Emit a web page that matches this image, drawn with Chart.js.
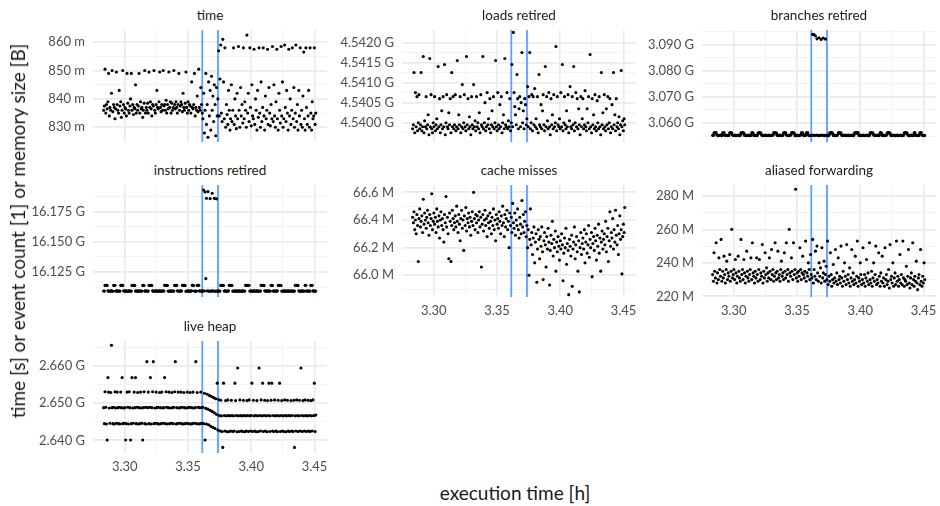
<!DOCTYPE html>
<html>
<head>
<meta charset="utf-8">
<script src="https://cdn.jsdelivr.net/npm/chart.js@4.4.1/dist/chart.umd.min.js"></script>
<style>
  body { margin: 0; background: #fff; font-family: Lato, sans-serif; }
  #wrap { position: relative; width: 940px; height: 506px; overflow: hidden; }
  canvas { position: absolute; }
  .strip { position: absolute; text-align: center; font-size: 13.5px; line-height: 16px; color: #1a1a1a; }
  .axis-title { position: absolute; font-size: 19px; line-height: 22px; color: #1a1a1a; white-space: nowrap; font-weight: 400; }
</style>
</head>
<body>
<div id="wrap"></div>
<script>
// execution time of each run [h]
const runTimes = [
  3.2833, 3.2839, 3.2844, 3.2850, 3.2855, 3.2861, 3.2867, 3.2872, 3.2878, 3.2883, 3.2889, 3.2895, 3.2900, 3.2906, 3.2912, 3.2917, 3.2923, 3.2928, 3.2934, 3.2940, 3.2945, 3.2951, 3.2956, 3.2962, 3.2968, 3.2973, 3.2979, 3.2984, 3.2990, 3.2996,
  3.3001, 3.3007, 3.3013, 3.3018, 3.3024, 3.3029, 3.3035, 3.3041, 3.3046, 3.3052, 3.3057, 3.3063, 3.3069, 3.3074, 3.3080, 3.3085, 3.3091, 3.3097, 3.3102, 3.3108, 3.3113, 3.3119, 3.3125, 3.3130, 3.3136, 3.3142, 3.3147, 3.3153, 3.3158, 3.3164,
  3.3170, 3.3175, 3.3181, 3.3186, 3.3192, 3.3198, 3.3203, 3.3209, 3.3214, 3.3220, 3.3226, 3.3231, 3.3237, 3.3242, 3.3248, 3.3254, 3.3259, 3.3265, 3.3271, 3.3276, 3.3282, 3.3287, 3.3293, 3.3299, 3.3304, 3.3310, 3.3315, 3.3321, 3.3327, 3.3332,
  3.3338, 3.3343, 3.3349, 3.3355, 3.3360, 3.3366, 3.3372, 3.3377, 3.3383, 3.3388, 3.3394, 3.3400, 3.3405, 3.3411, 3.3416, 3.3422, 3.3428, 3.3433, 3.3439, 3.3444, 3.3450, 3.3456, 3.3461, 3.3467, 3.3472, 3.3478, 3.3484, 3.3489, 3.3495, 3.3501,
  3.3506, 3.3512, 3.3517, 3.3523, 3.3529, 3.3534, 3.3540, 3.3545, 3.3551, 3.3557, 3.3562, 3.3568, 3.3573, 3.3579, 3.3585, 3.3590, 3.3596, 3.3601, 3.3607, 3.3613, 3.3618, 3.3624, 3.3630, 3.3635, 3.3641, 3.3646, 3.3652, 3.3658, 3.3663, 3.3669,
  3.3675, 3.3680, 3.3686, 3.3691, 3.3697, 3.3703, 3.3708, 3.3714, 3.3719, 3.3725, 3.3731, 3.3736, 3.3742, 3.3747, 3.3753, 3.3759, 3.3764, 3.3770, 3.3775, 3.3781, 3.3787, 3.3792, 3.3798, 3.3804, 3.3809, 3.3815, 3.3820, 3.3826, 3.3832, 3.3837,
  3.3843, 3.3848, 3.3854, 3.3860, 3.3865, 3.3871, 3.3876, 3.3882, 3.3888, 3.3893, 3.3899, 3.3904, 3.3910, 3.3916, 3.3921, 3.3927, 3.3933, 3.3938, 3.3944, 3.3949, 3.3955, 3.3961, 3.3966, 3.3972, 3.3977, 3.3983, 3.3989, 3.3994, 3.4000, 3.4005,
  3.4011, 3.4017, 3.4022, 3.4028, 3.4034, 3.4039, 3.4045, 3.4050, 3.4056, 3.4062, 3.4067, 3.4073, 3.4078, 3.4084, 3.4090, 3.4095, 3.4101, 3.4106, 3.4112, 3.4118, 3.4123, 3.4129, 3.4134, 3.4140, 3.4146, 3.4151, 3.4157, 3.4163, 3.4168, 3.4174,
  3.4179, 3.4185, 3.4191, 3.4196, 3.4202, 3.4207, 3.4213, 3.4219, 3.4224, 3.4230, 3.4236, 3.4241, 3.4247, 3.4252, 3.4258, 3.4264, 3.4269, 3.4275, 3.4280, 3.4286, 3.4292, 3.4297, 3.4303, 3.4308, 3.4314, 3.4320, 3.4325, 3.4331, 3.4337, 3.4342,
  3.4348, 3.4353, 3.4359, 3.4365, 3.4370, 3.4376, 3.4381, 3.4387, 3.4393, 3.4398, 3.4404, 3.4409, 3.4415, 3.4421, 3.4426, 3.4432, 3.4437, 3.4443, 3.4449, 3.4454, 3.4460, 3.4465, 3.4471, 3.4477, 3.4482, 3.4488, 3.4494, 3.4499, 3.4505, 3.4510
];

// time [ms]
const timeValues = [
  836, 837.5, 850.5, 835, 838, 836.5, 839, 849, 834, 837, 836, 842, 850, 835.5, 838, 837, 833, 836.5, 849.5, 838, 836, 835, 843, 837.5, 839, 833.5, 836, 850, 838, 835,
  837, 836.5, 834, 849, 838.5, 836, 835, 837.5, 840, 849, 836, 838, 834.5, 837, 836.5, 845, 835, 838, 836, 837.5, 849, 835, 839, 836.5, 837, 833.5, 836, 838.5, 850, 835,
  837, 836, 838.5, 835, 849.5, 837, 839, 836.5, 834, 838, 837.5, 850, 836, 835, 838, 843, 837, 836.5, 839, 849.5, 837, 835.5, 838, 836, 850, 837.5, 838, 836, 839.5, 835,
  838, 836.5, 849.5, 837, 839, 835, 838.5, 836, 837, 850, 838, 836.5, 839, 837, 835, 838, 849, 836, 837.5, 839, 838, 835.5, 842, 837, 836, 838.5, 849.5, 837, 835, 839,
  836, 838, 837.5, 835, 846, 837, 836.5, 838, 849, 834, 837, 836, 841, 835.5, 850.5, 837, 836, 844, 838, 835, 833, 842, 828, 836, 849, 831, 838, 826.5, 846, 834,
  843, 829, 848, 836, 841, 832, 845, 838, 827, 844, 834, 840, 857, 834, 847, 859, 835, 832, 861, 846, 833, 858, 830, 838, 834.5, 831, 843, 836, 829, 833,
  845, 832, 836, 858, 831, 840, 834, 829.5, 842, 833, 858.5, 836, 830, 844, 834, 838, 831.5, 858, 833, 839, 836, 830, 862.5, 835, 842, 832, 858, 837, 830.5, 845,
  834, 833, 857.5, 831, 840, 836, 829, 843, 833.5, 858, 835, 830, 846, 832, 837, 858, 834, 829, 841, 833, 836, 857.5, 831, 844, 835, 830.5, 838, 833, 858.5, 832,
  845, 834, 830, 839, 857.5, 833, 829, 842, 836, 831.5, 858.5, 834, 846, 830, 833, 859, 837, 832, 843, 835, 829, 857.5, 834, 840, 831, 836, 858, 833, 844, 830,
  835, 859, 832, 838, 829, 843, 834, 858, 831, 836, 830, 841, 856.5, 833, 829, 858, 837, 831, 834, 843, 830, 858, 835, 829, 839, 833, 834, 858, 831, 835
];

// loads retired [G]
const loadsValues = [
  4.53985, 4.53995, 4.54125, 4.53975, 4.54075, 4.53990, 4.54065, 4.53980, 4.54000, 4.54070, 4.53985, 4.53995, 4.54125, 4.53980, 4.53990, 4.54165, 4.53975, 4.54005, 4.53990, 4.54065, 4.53985, 4.53995, 4.54020, 4.53970, 4.54160, 4.53990, 4.54070, 4.53985, 4.53975, 4.54000,
  4.53990, 4.54065, 4.53980, 4.53995, 4.54010, 4.53985, 4.54140, 4.53990, 4.54060, 4.53975, 4.53995, 4.54030, 4.53985, 4.54065, 4.53990, 4.54145, 4.53970, 4.54000, 4.54070, 4.53990, 4.53985, 4.54025, 4.53995, 4.54060, 4.53975, 4.54125, 4.53990, 4.54065, 4.53985, 4.53995,
  4.54070, 4.53980, 4.53990, 4.54155, 4.53985, 4.54020, 4.53995, 4.54065, 4.53975, 4.53990, 4.54095, 4.53985, 4.54000, 4.54070, 4.53990, 4.53980, 4.54165, 4.53995, 4.54060, 4.53985, 4.54015, 4.53990, 4.53970, 4.54065, 4.53995, 4.53985, 4.54095, 4.53990, 4.54005, 4.53980,
  4.54065, 4.53990, 4.54000, 4.53985, 4.54025, 4.53975, 4.54070, 4.53995, 4.53990, 4.54165, 4.53985, 4.54000, 4.54050, 4.53980, 4.53990, 4.54075, 4.53995, 4.54010, 4.53985, 4.54060, 4.53975, 4.53995, 4.54030, 4.53990, 4.54065, 4.53985, 4.54000, 4.54155, 4.53990, 4.53980,
  4.54075, 4.53995, 4.53985, 4.54045, 4.53990, 4.54065, 4.53975, 4.54000, 4.54020, 4.53985, 4.54160, 4.53995, 4.53990, 4.54075, 4.53985, 4.54005, 4.53990, 4.54060, 4.53980, 4.54000, 4.54145, 4.53990, 4.54225, 4.54075, 4.54040, 4.54020, 4.53995, 4.54120, 4.54060, 4.53985,
  4.54035, 4.54065, 4.53990, 4.54050, 4.54175, 4.54000, 4.54030, 4.53985, 4.54060, 4.54045, 4.53995, 4.54010, 4.54090, 4.53990, 4.54065, 4.54175, 4.53985, 4.54000, 4.54070, 4.53980, 4.54065, 4.53995, 4.54085, 4.53990, 4.54010, 4.53985, 4.54065, 4.53975, 4.54120, 4.53995,
  4.53990, 4.54045, 4.53985, 4.54030, 4.54070, 4.53995, 4.53980, 4.54140, 4.53990, 4.54065, 4.54005, 4.53985, 4.54075, 4.53990, 4.53970, 4.54060, 4.53995, 4.54020, 4.53985, 4.54070, 4.53990, 4.54000, 4.54190, 4.53980, 4.54065, 4.53995, 4.53990, 4.54010, 4.53985, 4.54075,
  4.53990, 4.54145, 4.53980, 4.54000, 4.54065, 4.53995, 4.53985, 4.54030, 4.53990, 4.54070, 4.53975, 4.54005, 4.54090, 4.53990, 4.53985, 4.54065, 4.53995, 4.54140, 4.53980, 4.54000, 4.54075, 4.53990, 4.54060, 4.53985, 4.54035, 4.53995, 4.53970, 4.54065, 4.53990, 4.54010,
  4.54060, 4.53985, 4.53995, 4.54080, 4.53990, 4.53980, 4.54035, 4.54000, 4.54065, 4.53985, 4.54170, 4.53990, 4.53975, 4.54060, 4.53995, 4.54020, 4.53985, 4.54070, 4.53990, 4.53980, 4.54055, 4.54000, 4.53985, 4.54065, 4.53990, 4.53970, 4.54125, 4.53995, 4.54025, 4.53985,
  4.54070, 4.53990, 4.53980, 4.54035, 4.53995, 4.54065, 4.53985, 4.54000, 4.54060, 4.53975, 4.53990, 4.54045, 4.53985, 4.54125, 4.53995, 4.54020, 4.53980, 4.54060, 4.53990, 4.54000, 4.53985, 4.54015, 4.53970, 4.53995, 4.54130, 4.53990, 4.54005, 4.53980, 4.54010, 4.53995
];

// branches retired [G]
const branchesValues = [
  3.0553, 3.0552, 3.0562, 3.0561, 3.0563, 3.0562, 3.0554, 3.0553, 3.0551, 3.0553, 3.0552, 3.0554, 3.0553, 3.0551, 3.0562, 3.0561, 3.0563, 3.0553, 3.0552, 3.0554, 3.0553, 3.0551, 3.0553, 3.0552, 3.0562, 3.0563, 3.0561, 3.0562, 3.0554, 3.0553,
  3.0552, 3.0554, 3.0553, 3.0551, 3.0553, 3.0552, 3.0554, 3.0553, 3.0551, 3.0553, 3.0562, 3.0561, 3.0563, 3.0562, 3.0561, 3.0552, 3.0554, 3.0553, 3.0551, 3.0553, 3.0552, 3.0554, 3.0553, 3.0551, 3.0553, 3.0562, 3.0563, 3.0561, 3.0552, 3.0554,
  3.0553, 3.0551, 3.0553, 3.0552, 3.0562, 3.0561, 3.0563, 3.0562, 3.0561, 3.0554, 3.0553, 3.0551, 3.0553, 3.0552, 3.0554, 3.0553, 3.0551, 3.0553, 3.0552, 3.0554, 3.0553, 3.0551, 3.0553, 3.0552, 3.0554, 3.0553, 3.0562, 3.0563, 3.0561, 3.0562,
  3.0561, 3.0553, 3.0551, 3.0553, 3.0552, 3.0554, 3.0553, 3.0551, 3.0553, 3.0552, 3.0562, 3.0561, 3.0563, 3.0562, 3.0554, 3.0553, 3.0551, 3.0553, 3.0552, 3.0554, 3.0553, 3.0562, 3.0561, 3.0563, 3.0562, 3.0561, 3.0551, 3.0553, 3.0552, 3.0554,
  3.0553, 3.0551, 3.0553, 3.0552, 3.0554, 3.0562, 3.0563, 3.0561, 3.0553, 3.0551, 3.0553, 3.0552, 3.0562, 3.0561, 3.0563, 3.0554, 3.0553, 3.0551, 3.0553, 3.0552, 3.0554, 3.0938, 3.0553, 3.0937, 3.0552, 3.0932, 3.0554, 3.0921, 3.0553, 3.0551,
  3.0925, 3.0553, 3.0552, 3.0919, 3.0554, 3.0553, 3.0924, 3.0551, 3.0553, 3.0920, 3.0552, 3.0554, 3.0553, 3.0551, 3.0553, 3.0562, 3.0561, 3.0563, 3.0562, 3.0561, 3.0552, 3.0554, 3.0553, 3.0551, 3.0553, 3.0552, 3.0554, 3.0562, 3.0563, 3.0561,
  3.0562, 3.0561, 3.0553, 3.0551, 3.0553, 3.0552, 3.0554, 3.0553, 3.0551, 3.0553, 3.0552, 3.0554, 3.0553, 3.0551, 3.0553, 3.0552, 3.0554, 3.0553, 3.0551, 3.0553, 3.0562, 3.0561, 3.0563, 3.0562, 3.0561, 3.0563, 3.0552, 3.0554, 3.0553, 3.0551,
  3.0553, 3.0552, 3.0554, 3.0553, 3.0551, 3.0553, 3.0552, 3.0554, 3.0553, 3.0551, 3.0553, 3.0552, 3.0562, 3.0561, 3.0563, 3.0562, 3.0561, 3.0554, 3.0553, 3.0551, 3.0553, 3.0552, 3.0554, 3.0553, 3.0551, 3.0553, 3.0562, 3.0563, 3.0561, 3.0552,
  3.0554, 3.0553, 3.0551, 3.0553, 3.0552, 3.0554, 3.0562, 3.0561, 3.0563, 3.0562, 3.0561, 3.0553, 3.0551, 3.0553, 3.0552, 3.0554, 3.0553, 3.0551, 3.0553, 3.0552, 3.0554, 3.0553, 3.0551, 3.0553, 3.0552, 3.0554, 3.0553, 3.0551, 3.0553, 3.0552,
  3.0562, 3.0561, 3.0563, 3.0562, 3.0561, 3.0554, 3.0553, 3.0551, 3.0553, 3.0552, 3.0554, 3.0553, 3.0551, 3.0553, 3.0562, 3.0563, 3.0552, 3.0554, 3.0553, 3.0551, 3.0553, 3.0552, 3.0562, 3.0561, 3.0563, 3.0554, 3.0553, 3.0551, 3.0553, 3.0552
];

// instructions retired [G]
const instructionsValues = [
  16.1092, 16.1091, 16.1139, 16.1138, 16.1140, 16.1139, 16.1093, 16.1092, 16.1090, 16.1092, 16.1091, 16.1093, 16.1092, 16.1090, 16.1139, 16.1138, 16.1140, 16.1092, 16.1091, 16.1093, 16.1092, 16.1090, 16.1092, 16.1091, 16.1139, 16.1140, 16.1138, 16.1139, 16.1093, 16.1092,
  16.1091, 16.1093, 16.1092, 16.1090, 16.1092, 16.1091, 16.1093, 16.1092, 16.1090, 16.1092, 16.1139, 16.1138, 16.1140, 16.1139, 16.1138, 16.1091, 16.1093, 16.1092, 16.1090, 16.1092, 16.1091, 16.1093, 16.1092, 16.1090, 16.1092, 16.1139, 16.1140, 16.1138, 16.1091, 16.1093,
  16.1092, 16.1090, 16.1092, 16.1091, 16.1139, 16.1138, 16.1140, 16.1139, 16.1138, 16.1093, 16.1092, 16.1090, 16.1092, 16.1091, 16.1093, 16.1092, 16.1090, 16.1092, 16.1091, 16.1093, 16.1092, 16.1090, 16.1092, 16.1091, 16.1093, 16.1092, 16.1139, 16.1140, 16.1138, 16.1139,
  16.1138, 16.1092, 16.1090, 16.1092, 16.1091, 16.1093, 16.1092, 16.1090, 16.1092, 16.1091, 16.1139, 16.1138, 16.1140, 16.1139, 16.1093, 16.1092, 16.1090, 16.1092, 16.1091, 16.1093, 16.1092, 16.1139, 16.1138, 16.1140, 16.1139, 16.1138, 16.1090, 16.1092, 16.1091, 16.1093,
  16.1092, 16.1090, 16.1092, 16.1091, 16.1093, 16.1139, 16.1140, 16.1138, 16.1092, 16.1090, 16.1092, 16.1091, 16.1139, 16.1138, 16.1140, 16.1093, 16.1092, 16.1090, 16.1092, 16.1091, 16.1093, 16.1932, 16.1092, 16.1915, 16.1195, 16.1862, 16.1093, 16.1918, 16.1092, 16.1090,
  16.1860, 16.1092, 16.1091, 16.1905, 16.1093, 16.1092, 16.1862, 16.1090, 16.1092, 16.1858, 16.1091, 16.1093, 16.1092, 16.1090, 16.1092, 16.1139, 16.1138, 16.1140, 16.1139, 16.1138, 16.1091, 16.1093, 16.1092, 16.1090, 16.1092, 16.1091, 16.1093, 16.1139, 16.1140, 16.1138,
  16.1139, 16.1138, 16.1092, 16.1090, 16.1092, 16.1091, 16.1093, 16.1092, 16.1090, 16.1092, 16.1091, 16.1093, 16.1092, 16.1090, 16.1092, 16.1091, 16.1093, 16.1092, 16.1090, 16.1092, 16.1139, 16.1138, 16.1140, 16.1139, 16.1138, 16.1140, 16.1091, 16.1093, 16.1092, 16.1090,
  16.1092, 16.1091, 16.1093, 16.1092, 16.1090, 16.1092, 16.1091, 16.1093, 16.1092, 16.1090, 16.1092, 16.1091, 16.1139, 16.1138, 16.1140, 16.1139, 16.1138, 16.1093, 16.1092, 16.1090, 16.1092, 16.1091, 16.1093, 16.1092, 16.1090, 16.1092, 16.1139, 16.1140, 16.1138, 16.1091,
  16.1093, 16.1092, 16.1090, 16.1092, 16.1091, 16.1093, 16.1139, 16.1138, 16.1140, 16.1139, 16.1138, 16.1092, 16.1090, 16.1092, 16.1091, 16.1093, 16.1092, 16.1090, 16.1092, 16.1091, 16.1093, 16.1092, 16.1090, 16.1092, 16.1091, 16.1093, 16.1092, 16.1090, 16.1092, 16.1091,
  16.1139, 16.1138, 16.1140, 16.1139, 16.1138, 16.1093, 16.1092, 16.1090, 16.1092, 16.1091, 16.1093, 16.1092, 16.1090, 16.1092, 16.1139, 16.1140, 16.1091, 16.1093, 16.1092, 16.1090, 16.1092, 16.1091, 16.1139, 16.1138, 16.1140, 16.1093, 16.1092, 16.1090, 16.1092, 16.1091
];

// cache misses [M]
const cacheValues = [
  66.42, 66.38, 66.46, 66.33, 66.40, 66.30, 66.44, 66.36, 66.10, 66.41, 66.48, 66.35, 66.39, 66.43, 66.31, 66.55, 66.37, 66.45, 66.40, 66.34, 66.42, 66.47, 66.38, 66.29, 66.44, 66.36, 66.41, 66.59, 66.33, 66.39,
  66.45, 66.37, 66.42, 66.31, 66.48, 66.39, 66.35, 66.43, 66.27, 66.40, 66.46, 66.36, 66.41, 66.33, 66.24, 66.44, 66.38, 66.57, 66.35, 66.42, 66.30, 66.12, 66.45, 66.39, 66.10, 66.36, 66.47, 66.41, 66.33, 66.38,
  66.43, 66.35, 66.50, 66.39, 66.31, 66.44, 66.37, 66.25, 66.41, 66.47, 66.34, 66.40, 66.18, 66.43, 66.36, 66.49, 66.32, 66.41, 66.38, 66.45, 66.35, 66.42, 66.29, 66.39, 66.46, 66.36, 66.60, 66.41, 66.33, 66.44,
  66.38, 66.43, 66.31, 66.40, 66.46, 66.35, 66.42, 66.06, 66.37, 66.44, 66.32, 66.40, 66.47, 66.36, 66.41, 66.28, 66.43, 66.38, 66.34, 66.45, 66.39, 66.30, 66.42, 66.36, 66.48, 66.33, 66.40, 66.25, 66.44, 66.37,
  66.41, 66.34, 66.46, 66.39, 66.30, 66.43, 66.36, 66.50, 66.38, 66.28, 66.44, 66.35, 66.41, 66.47, 66.33, 66.39, 66.20, 66.45, 66.36, 66.42, 66.31, 66.52, 66.38, 66.34, 66.45, 66.29, 66.40, 66.36, 66.48, 66.33,
  66.27, 66.42, 66.37, 66.30, 66.54, 66.35, 66.44, 66.31, 66.39, 66.46, 66.28, 66.36, 66.20, 66.33, 66.00, 66.26, 66.48, 66.22, 66.31, 66.15, 66.27, 66.35, 66.09, 66.24, 66.30, 65.95, 66.19, 66.33, 66.26, 66.12,
  66.28, 66.21, 66.35, 66.17, 65.97, 66.25, 66.31, 66.22, 66.06, 66.28, 66.19, 66.34, 66.24, 65.93, 66.18, 66.29, 66.23, 66.39, 66.14, 66.26, 66.20, 66.32, 66.03, 66.24, 66.17, 66.28, 66.21, 66.11, 66.25, 66.19,
  66.30, 66.22, 65.96, 66.16, 66.27, 66.20, 66.34, 66.08, 66.23, 66.18, 65.86, 66.26, 66.21, 66.14, 66.29, 65.92, 66.19, 66.24, 66.35, 66.12, 66.22, 66.28, 66.17, 66.03, 66.25, 65.88, 66.20, 66.31, 66.15, 66.23,
  66.27, 66.19, 66.33, 66.09, 66.24, 66.30, 66.16, 66.22, 66.36, 66.13, 66.26, 66.20, 66.31, 65.99, 66.23, 66.28, 66.18, 66.34, 66.25, 66.11, 66.29, 66.21, 66.37, 66.16, 66.27, 66.03, 66.24, 66.32, 66.19, 66.26,
  66.30, 66.22, 66.39, 66.17, 66.28, 66.34, 66.10, 66.25, 66.46, 66.21, 66.31, 66.27, 66.41, 66.19, 66.33, 66.24, 66.47, 66.29, 66.22, 66.36, 66.15, 66.30, 66.43, 66.26, 66.33, 66.01, 66.28, 66.37, 66.31, 66.49
];

// aliased forwarding [M]
const aliasedValues = [
  233, 229, 246, 235, 231, 252, 228, 234, 230, 243, 236, 232, 254, 229, 235, 231, 244, 233, 228, 236, 241, 230, 234, 232, 245, 229, 235, 260, 231, 233,
  236, 230, 242, 234, 228, 232, 244, 235, 231, 229, 254, 233, 236, 230, 242, 234, 228, 232, 247, 235, 231, 229, 233, 236, 243, 230, 252, 234, 232, 228,
  235, 231, 243, 233, 229, 236, 242, 230, 234, 232, 251, 228, 235, 231, 246, 233, 237, 229, 234, 231, 243, 235, 230, 248, 233, 236, 229, 232, 252, 234,
  230, 235, 247, 231, 233, 229, 236, 241, 232, 234, 230, 246, 235, 231, 252, 233, 236, 229, 260, 234, 232, 243, 235, 230, 252, 233, 236, 284, 231, 234,
  229, 235, 232, 249, 236, 230, 234, 244, 233, 231, 235, 253, 229, 234, 232, 240, 236, 230, 245, 233, 231, 254, 228, 236, 232, 247, 230, 250, 234, 229,
  240, 232, 237, 228, 249, 231, 234, 241, 229, 233, 238, 230, 253, 227, 232, 229, 246, 233, 226, 230, 239, 228, 231, 248, 229, 234, 227, 243, 230, 232,
  228, 250, 231, 226, 235, 229, 240, 232, 227, 251, 230, 233, 228, 237, 226, 231, 248, 229, 234, 227, 230, 244, 228, 232, 253, 226, 231, 229, 240, 233,
  227, 230, 249, 228, 233, 226, 231, 242, 229, 234, 227, 252, 230, 228, 235, 226, 231, 240, 229, 233, 250, 227, 230, 228, 246, 232, 226, 234, 229, 244,
  228, 231, 226, 249, 230, 233, 227, 229, 236, 225, 251, 230, 232, 228, 240, 226, 231, 234, 227, 253, 229, 232, 226, 230, 245, 228, 233, 227, 253, 231,
  226, 230, 229, 238, 227, 232, 248, 228, 225, 231, 234, 227, 252, 230, 226, 232, 229, 241, 228, 224, 231, 233, 227, 248, 229, 226, 232, 228, 240, 230
];

// live heap [G]
const heapValues = [
  2.6488, 2.6445, 2.6531, 2.6489, 2.6444, 2.6401, 2.6569, 2.6530, 2.6487, 2.6446, 2.6529, 2.6656, 2.6488, 2.6445, 2.6489, 2.6444, 2.6531, 2.6487, 2.6446, 2.6530, 2.6488, 2.6445, 2.6489, 2.6444, 2.6530, 2.6488, 2.6569, 2.6445, 2.6487, 2.6446,
  2.6488, 2.6401, 2.6445, 2.6530, 2.6489, 2.6444, 2.6531, 2.6488, 2.6401, 2.6445, 2.6569, 2.6487, 2.6446, 2.6530, 2.6488, 2.6569, 2.6445, 2.6489, 2.6529, 2.6444, 2.6488, 2.6445, 2.6530, 2.6487, 2.6446, 2.6401, 2.6488, 2.6531, 2.6445, 2.6489,
  2.6444, 2.6612, 2.6488, 2.6530, 2.6445, 2.6489, 2.6569, 2.6444, 2.6488, 2.6531, 2.6612, 2.6445, 2.6487, 2.6446, 2.6530, 2.6488, 2.6445, 2.6489, 2.6444, 2.6529, 2.6488, 2.6445, 2.6530, 2.6487, 2.6446, 2.6488, 2.6569, 2.6445, 2.6531, 2.6489,
  2.6444, 2.6488, 2.6530, 2.6445, 2.6487, 2.6446, 2.6529, 2.6488, 2.6445, 2.6489, 2.6531, 2.6612, 2.6444, 2.6488, 2.6445, 2.6530, 2.6487, 2.6446, 2.6488, 2.6530, 2.6445, 2.6489, 2.6444, 2.6529, 2.6488, 2.6445, 2.6487, 2.6446, 2.6530, 2.6488,
  2.6445, 2.6489, 2.6529, 2.6444, 2.6488, 2.6445, 2.6530, 2.6487, 2.6446, 2.6488, 2.6612, 2.6445, 2.6529, 2.6489, 2.6444, 2.6488, 2.6445, 2.6530, 2.6488, 2.6446, 2.6489, 2.6445, 2.6527, 2.6401, 2.6486, 2.6444, 2.6524, 2.6484, 2.6442, 2.6521,
  2.6481, 2.6438, 2.6518, 2.6478, 2.6435, 2.6515, 2.6474, 2.6432, 2.6512, 2.6470, 2.6554, 2.6428, 2.6510, 2.6467, 2.6425, 2.6508, 2.6466, 2.6424, 2.6381, 2.6554, 2.6467, 2.6425, 2.6507, 2.6466, 2.6423, 2.6509, 2.6467, 2.6424, 2.6466, 2.6425,
  2.6508, 2.6467, 2.6424, 2.6466, 2.6425, 2.6554, 2.6507, 2.6467, 2.6423, 2.6595, 2.6466, 2.6424, 2.6509, 2.6467, 2.6425, 2.6466, 2.6424, 2.6508, 2.6467, 2.6423, 2.6466, 2.6425, 2.6507, 2.6467, 2.6424, 2.6509, 2.6466, 2.6425, 2.6467, 2.6554,
  2.6424, 2.6508, 2.6466, 2.6425, 2.6467, 2.6423, 2.6507, 2.6466, 2.6424, 2.6595, 2.6467, 2.6425, 2.6509, 2.6466, 2.6554, 2.6424, 2.6467, 2.6508, 2.6425, 2.6466, 2.6423, 2.6507, 2.6467, 2.6554, 2.6424, 2.6466, 2.6508, 2.6554, 2.6425, 2.6467,
  2.6424, 2.6509, 2.6466, 2.6425, 2.6467, 2.6423, 2.6508, 2.6466, 2.6554, 2.6424, 2.6467, 2.6507, 2.6425, 2.6466, 2.6424, 2.6509, 2.6467, 2.6423, 2.6466, 2.6508, 2.6425, 2.6467, 2.6424, 2.6466, 2.6507, 2.6425, 2.6467, 2.6424, 2.6508, 2.6381,
  2.6466, 2.6425, 2.6509, 2.6467, 2.6424, 2.6466, 2.6508, 2.6425, 2.6595, 2.6467, 2.6424, 2.6507, 2.6466, 2.6425, 2.6509, 2.6467, 2.6424, 2.6466, 2.6508, 2.6425, 2.6467, 2.6424, 2.6507, 2.6466, 2.6425, 2.6509, 2.6467, 2.6554, 2.6424, 2.6468
];

// detected change interval [h]
const changeTimes = [3.3613, 3.3737];

// tick labels
const xTicks = [3.30, 3.35, 3.40, 3.45];
const xMinor = [3.325, 3.375, 3.425];
const timeTicks = [830, 840, 850, 860];
const timeMinor = [835, 845, 855];
const loadsTicks = [4.5400, 4.5405, 4.5410, 4.5415, 4.5420];
const loadsMinor = [4.53975, 4.54025, 4.54075, 4.54125, 4.54175];
const branchesTicks = [3.060, 3.070, 3.080, 3.090];
const branchesMinor = [3.055, 3.065, 3.075, 3.085, 3.095];
const instructionsTicks = [16.125, 16.150, 16.175];
const instructionsMinor = [16.1125, 16.1375, 16.1625, 16.1875];
const cacheTicks = [66.0, 66.2, 66.4, 66.6];
const cacheMinor = [65.9, 66.1, 66.3, 66.5];
const aliasedTicks = [220, 240, 260, 280];
const aliasedMinor = [230, 250, 270];
const heapTicks = [2.640, 2.650, 2.660];
const heapMinor = [2.645, 2.655, 2.665];

const panels = [
  { title: 'time', values: timeValues, ticks: timeTicks, minor: timeMinor, digits: 0, unit: 'm', min: 824.8, max: 864.3, col: 0, row: 0 },
  { title: 'loads retired', values: loadsValues, ticks: loadsTicks, minor: loadsMinor, digits: 4, unit: 'G', min: 4.53952, max: 4.54231, col: 1, row: 0 },
  { title: 'branches retired', values: branchesValues, ticks: branchesTicks, minor: branchesMinor, digits: 3, unit: 'G', min: 3.05272, max: 3.09548, col: 2, row: 0 },
  { title: 'instructions retired', values: instructionsValues, ticks: instructionsTicks, minor: instructionsMinor, digits: 3, unit: 'G', min: 16.1042, max: 16.1973, col: 0, row: 1 },
  { title: 'cache misses', values: cacheValues, ticks: cacheTicks, minor: cacheMinor, digits: 1, unit: 'M', min: 65.843, max: 66.653, col: 1, row: 1, xLabels: true },
  { title: 'aliased forwarding', values: aliasedValues, ticks: aliasedTicks, minor: aliasedMinor, digits: 0, unit: 'M', min: 219.6, max: 286.5, col: 2, row: 1, xLabels: true },
  { title: 'live heap', values: heapValues, ticks: heapTicks, minor: heapMinor, digits: 3, unit: 'G', min: 2.63659, max: 2.66676, col: 0, row: 2, xLabels: true }
];

const colLeft = [93, 402, 702];
const rowTop = [30, 185, 341];
const panelW = 234, panelH = 112, axisW = 80;
const xMin = 3.2749, xMax = 3.4599;

Chart.defaults.font.family = 'Lato, sans-serif';
const wrap = document.getElementById('wrap');

function grid(majors) {
  return {
    color: (c) => majors.includes(c.tick.value) ? '#EBEBEB' : '#F2F2F2',
    lineWidth: (c) => majors.includes(c.tick.value) ? 1.7 : 0.9,
    drawTicks: false
  };
}

panels.forEach((p) => {
  const left = colLeft[p.col], top = rowTop[p.row];
  const xh = p.xLabels ? 26 : 0;

  const canvas = document.createElement('canvas');
  canvas.width = axisW + panelW + 4;
  canvas.height = panelH + xh;
  canvas.style.left = (left - axisW) + 'px';
  canvas.style.top = top + 'px';
  wrap.appendChild(canvas);

  const strip = document.createElement('div');
  strip.className = 'strip';
  strip.textContent = p.title;
  strip.style.left = left + 'px';
  strip.style.width = panelW + 'px';
  strip.style.top = (top - 23) + 'px';
  wrap.appendChild(strip);

  const points = runTimes.map((t, i) => ({ x: t, y: p.values[i] }));
  const datasets = [{
    data: points, pointRadius: 1.55, pointBackgroundColor: '#000', pointBorderWidth: 0, order: 0
  }];
  changeTimes.forEach((t) => datasets.push({
    data: [{ x: t, y: p.min }, { x: t, y: p.max }], showLine: true,
    borderColor: '#619CFF', borderWidth: 1.8, pointRadius: 0, order: 1
  }));

  new Chart(canvas, {
    type: 'scatter',
    data: { datasets },
    options: {
      responsive: false,
      animation: false,
      events: [],
      layout: { padding: { right: 4 }, autoPadding: false },
      plugins: { legend: { display: false }, tooltip: { enabled: false } },
      scales: {
        x: {
          type: 'linear', min: xMin, max: xMax,
          border: { display: false },
          grid: grid(xTicks),
          afterBuildTicks: (s) => { s.ticks = xTicks.concat(xMinor).map((v) => ({ value: v })); },
          afterFit: (s) => { s.height = xh; s.paddingLeft = 0; s.paddingRight = 0; },
          ticks: {
            display: !!p.xLabels, autoSkip: false, maxRotation: 0, padding: 6,
            color: '#4D4D4D', font: { size: 13 },
            callback: (v) => xTicks.includes(v) ? v.toFixed(2) : ''
          }
        },
        y: {
          type: 'linear', min: p.min, max: p.max,
          border: { display: false },
          grid: grid(p.ticks),
          afterBuildTicks: (s) => { s.ticks = p.ticks.concat(p.minor).map((v) => ({ value: v })); },
          afterFit: (s) => { s.width = axisW; s.paddingTop = 0; s.paddingBottom = 0; },
          ticks: {
            autoSkip: false, padding: 8, color: '#4D4D4D', font: { size: 13 },
            callback: (v) => p.ticks.includes(v) ? v.toFixed(p.digits) + ' ' + p.unit : ''
          }
        }
      }
    }
  });
});

const xTitle = document.createElement('div');
xTitle.className = 'axis-title';
xTitle.textContent = 'execution time [h]';
xTitle.style.left = '515px';
xTitle.style.top = '482px';
xTitle.style.transform = 'translateX(-50%)';
wrap.appendChild(xTitle);

const yTitle = document.createElement('div');
yTitle.className = 'axis-title';
yTitle.textContent = 'time [s] or event count [1] or memory size [B]';
yTitle.style.left = '18px';
yTitle.style.top = '231px';
yTitle.style.transform = 'translate(-50%, -50%) rotate(-90deg)';
wrap.appendChild(yTitle);
</script>
</body>
</html>
